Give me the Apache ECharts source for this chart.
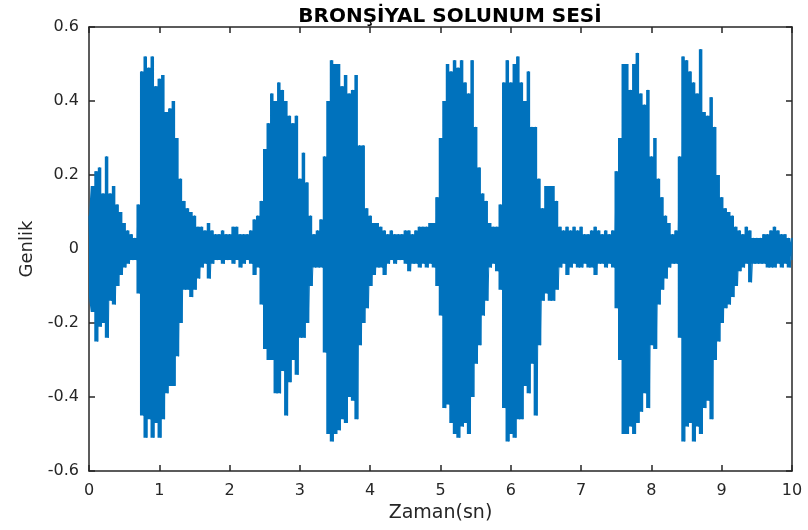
<!DOCTYPE html>
<html>
<head>
<meta charset="utf-8">
<script src="https://cdn.jsdelivr.net/npm/echarts@6/dist/echarts.min.js"></script>
<style>
html,body{margin:0;padding:0;background:#fff;}
#chart{width:808px;height:530px;}
</style>
</head>
<body>
<div id="chart"></div>
<script>
// Envelope of the recorded signal, one max/min pair per 0.05 s bin, 0 .. 10 s
const sampleStep = 0.05;
const upperEnvelope = [
  0.09,0.17,0.21,0.22,0.15,0.25,0.15,0.17,0.12,0.10,0.07,0.05,0.04,0.03,0.12,0.48,0.52,0.49,0.52,0.44,
  0.46,0.47,0.37,0.38,0.40,0.30,0.19,0.13,0.11,0.10,0.09,0.06,0.06,0.05,0.07,0.05,0.04,0.04,0.05,0.04,
  0.04,0.06,0.06,0.04,0.04,0.04,0.05,0.08,0.09,0.13,0.27,0.34,0.42,0.40,0.45,0.43,0.40,0.36,0.34,0.36,
  0.19,0.26,0.18,0.09,0.04,0.05,0.08,0.25,0.40,0.51,0.50,0.50,0.44,0.47,0.42,0.43,0.47,0.28,0.28,0.11,
  0.09,0.07,0.07,0.06,0.05,0.04,0.05,0.04,0.04,0.04,0.05,0.05,0.04,0.05,0.06,0.06,0.06,0.07,0.07,0.14,
  0.30,0.40,0.50,0.48,0.51,0.49,0.51,0.45,0.42,0.51,0.33,0.22,0.15,0.13,0.07,0.06,0.06,0.12,0.45,0.51,
  0.45,0.50,0.52,0.45,0.40,0.48,0.33,0.33,0.19,0.11,0.17,0.17,0.17,0.13,0.06,0.05,0.06,0.05,0.06,0.05,
  0.06,0.04,0.04,0.05,0.06,0.05,0.04,0.05,0.04,0.05,0.21,0.30,0.50,0.50,0.43,0.50,0.53,0.42,0.39,0.43,
  0.25,0.30,0.19,0.14,0.09,0.07,0.04,0.05,0.25,0.52,0.51,0.48,0.45,0.42,0.54,0.37,0.36,0.41,0.33,0.20,
  0.14,0.11,0.10,0.09,0.06,0.05,0.04,0.06,0.05,0.03,0.03,0.03,0.04,0.04,0.05,0.06,0.05,0.04,0.04,0.03,
  0.03
];
const lowerEnvelope = [
  -0.13,-0.17,-0.25,-0.21,-0.20,-0.24,-0.14,-0.15,-0.10,-0.07,-0.05,-0.04,-0.03,-0.03,-0.12,-0.45,-0.51,-0.46,-0.51,-0.47,
  -0.51,-0.46,-0.39,-0.37,-0.37,-0.29,-0.20,-0.11,-0.11,-0.13,-0.11,-0.08,-0.05,-0.04,-0.08,-0.04,-0.03,-0.03,-0.04,-0.03,
  -0.03,-0.04,-0.03,-0.05,-0.04,-0.03,-0.04,-0.07,-0.05,-0.15,-0.27,-0.30,-0.30,-0.39,-0.39,-0.33,-0.45,-0.36,-0.30,-0.34,
  -0.24,-0.24,-0.20,-0.10,-0.05,-0.05,-0.05,-0.28,-0.50,-0.52,-0.50,-0.49,-0.46,-0.47,-0.40,-0.41,-0.46,-0.26,-0.20,-0.16,
  -0.10,-0.07,-0.05,-0.05,-0.07,-0.04,-0.03,-0.04,-0.03,-0.03,-0.04,-0.06,-0.04,-0.04,-0.05,-0.04,-0.05,-0.04,-0.05,-0.10,
  -0.18,-0.43,-0.42,-0.47,-0.50,-0.51,-0.48,-0.47,-0.50,-0.40,-0.31,-0.26,-0.18,-0.14,-0.05,-0.04,-0.06,-0.11,-0.43,-0.52,
  -0.50,-0.51,-0.46,-0.46,-0.37,-0.39,-0.31,-0.45,-0.26,-0.14,-0.12,-0.14,-0.14,-0.11,-0.05,-0.04,-0.07,-0.05,-0.04,-0.05,
  -0.05,-0.04,-0.05,-0.05,-0.07,-0.04,-0.04,-0.05,-0.04,-0.05,-0.16,-0.30,-0.50,-0.50,-0.48,-0.50,-0.47,-0.44,-0.39,-0.43,
  -0.26,-0.27,-0.15,-0.11,-0.08,-0.05,-0.04,-0.04,-0.24,-0.52,-0.48,-0.47,-0.52,-0.48,-0.50,-0.43,-0.41,-0.46,-0.30,-0.25,
  -0.20,-0.16,-0.15,-0.13,-0.10,-0.06,-0.05,-0.04,-0.09,-0.04,-0.04,-0.04,-0.04,-0.05,-0.05,-0.05,-0.04,-0.05,-0.04,-0.05,
  -0.03
];
const xTicks = [0,1,2,3,4,5,6,7,8,9,10];
const yTicks = [-0.6,-0.4,-0.2,0,0.2,0.4,0.6];
const titleText = 'BRONŞİYAL SOLUNUM SESİ';
const xName = 'Zaman(sn)';
const yName = 'Genlik';

// Build waveform trace: each bin goes up to its max then down to its min
const trace = [];
const upperPts = [];
const lowerPts = [];
for (let i = 0; i < upperEnvelope.length; i++) {
  const t = +(i * sampleStep).toFixed(4);
  const tl = Math.min(10, +(t + sampleStep / 2).toFixed(4));
  trace.push([t, upperEnvelope[i]]);
  trace.push([tl, lowerEnvelope[i]]);
  upperPts.push([t, upperEnvelope[i]]);
  lowerPts.push([t, lowerEnvelope[i]]);
}

const waveColor = '#0072BD';
const axisColor = '#262626';
const font = 'DejaVu Sans';
const chart = echarts.init(document.getElementById('chart'), null, {renderer: 'canvas'});

function fmtY(v) {
  const r = Math.round(v * 10) / 10;
  if (r === 0) return '0';
  return r.toFixed(1);
}

const baseX = {
  type: 'value', min: xTicks[0], max: xTicks[xTicks.length - 1], interval: 1,
  axisLine: {show: true, onZero: false, lineStyle: {color: axisColor, width: 1.5}},
  axisTick: {show: true, inside: true, length: 6, lineStyle: {color: axisColor, width: 1.5}},
  splitLine: {show: false}
};
const baseY = {
  type: 'value', min: yTicks[0], max: yTicks[yTicks.length - 1], interval: 0.2,
  axisLine: {show: true, onZero: false, lineStyle: {color: axisColor, width: 1.5}},
  axisTick: {show: true, inside: true, length: 6, lineStyle: {color: axisColor, width: 1.5}},
  splitLine: {show: false}
};

const envelopeSeries = (pts) => ({
  type: 'line', xAxisIndex: 0, yAxisIndex: 0, data: pts,
  step: 'middle',
  showSymbol: false, symbol: 'none', sampling: null, clip: true, silent: true,
  lineStyle: {width: 0, opacity: 0},
  areaStyle: {color: waveColor, opacity: 1, origin: 0},
  z: 1
});

chart.setOption({
  animation: false,
  backgroundColor: '#ffffff',
  title: {
    text: titleText, left: 445, top: 2, textAlign: 'center',
    textStyle: {fontFamily: font, fontWeight: 'bold', fontSize: 20, color: '#000000'}
  },
  grid: {left: 89, right: 16, top: 27, bottom: 59, containLabel: false},
  xAxis: [
    Object.assign({}, baseX, {
      position: 'bottom',
      name: xName, nameLocation: 'middle', nameGap: 27,
      nameTextStyle: {fontFamily: font, fontSize: 19, color: axisColor},
      axisLabel: {show: true, margin: 12, fontFamily: font, fontSize: 16, color: axisColor}
    }),
    Object.assign({}, baseX, {position: 'top', axisLabel: {show: false}})
  ],
  yAxis: [
    Object.assign({}, baseY, {
      position: 'left',
      name: yName, nameLocation: 'middle', nameGap: 53,
      nameTextStyle: {fontFamily: font, fontSize: 18, color: axisColor},
      axisLabel: {show: true, margin: 10, fontFamily: font, fontSize: 16, color: axisColor, formatter: fmtY}
    }),
    Object.assign({}, baseY, {position: 'right', axisLabel: {show: false}})
  ],
  series: [
    envelopeSeries(upperPts),
    envelopeSeries(lowerPts),
    {
      type: 'line',
      xAxisIndex: 0, yAxisIndex: 0,
      data: trace,
      showSymbol: false,
      symbol: 'none',
      sampling: null,
      clip: true,
      lineStyle: {color: waveColor, width: 1},
      z: 2
    }
  ]
});
</script>
</body>
</html>
